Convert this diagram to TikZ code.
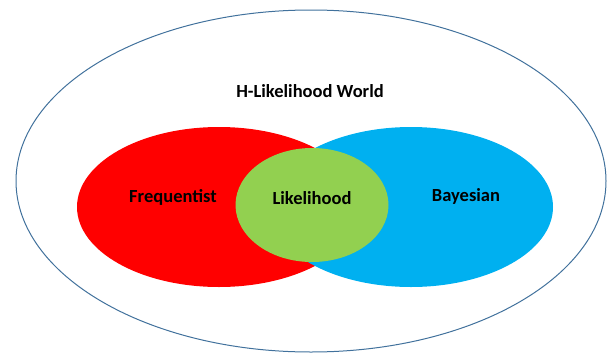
\documentclass[tikz,border=0pt]{standalone}
\usepackage{fontspec}
\setmainfont{Carlito}
\usetikzlibrary{shapes.geometric}
\definecolor{worldBlue}{RGB}{65, 113, 156}
\definecolor{freqRed}{RGB}{255, 0, 0}
\definecolor{bayesBlue}{RGB}{0, 176, 240}
\definecolor{likeGreen}{RGB}{146, 208, 80}

\begin{document}
\begin{tikzpicture}[x=1pt, y=-1pt]
                    \tikzstyle{blob} = [ellipse, inner sep=0pt, draw=none]
                    \tikzstyle{label} = [font=\fontsize{18.5}{22}\selectfont\bfseries, text=black]
                    \useasboundingbox (0,0) rectangle (610,356);
                    \node[blob, draw=worldBlue, line width=1pt, minimum width=590pt, minimum height=342pt] (world) at (311,181) {};
                    \node[blob, fill=freqRed, minimum width=284pt, minimum height=160pt] (freq) at (219,207) {};
                    \node[blob, fill=bayesBlue, minimum width=284pt, minimum height=160pt] (bayes) at (411,207) {};
                    \node[blob, fill=likeGreen, minimum width=153pt, minimum height=114pt] (like) at (312,205) {};
                    \node[label] (worldtext) at (310,91) {H-Likelihood World};
                    \node[label] (freqtext) at (173,197) {Frequentist};
                    \node[label] (liketext) at (312,198) {Likelihood};
                    \node[label] (bayestext) at (466,196) {Bayesian};
                \end{tikzpicture}
\end{document}
